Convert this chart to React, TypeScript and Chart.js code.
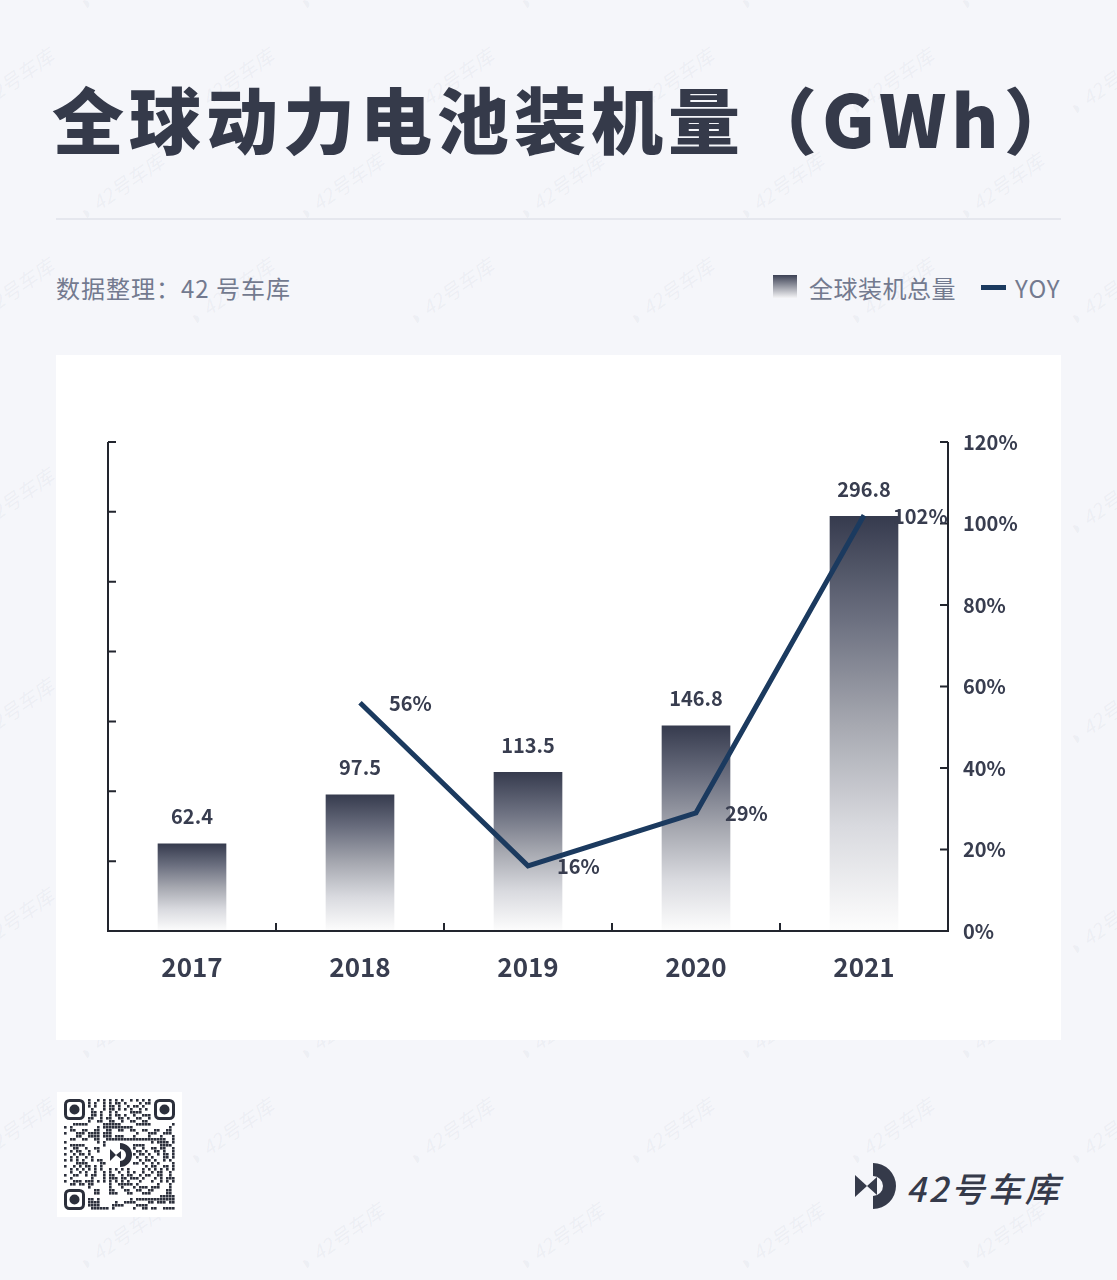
import React, { useEffect, useRef } from 'react';
import { Chart, registerables } from 'chart.js';

Chart.register(...registerables);

const categories = ['2017', '2018', '2019', '2020', '2021'];
const installedGWh = [62.4, 97.5, 113.5, 146.8, 296.8];
const yoyPercent: (number | null)[] = [null, 56, 16, 29, 102];
const leftAxisMax = 350;
const leftAxisStep = 50;
const rightAxisMax = 120;
const rightAxisStep = 20;

const titleText = '全球动力电池装机量（GWh）';
const sourceText = '数据整理：42 号车库';
const barLegend = '全球装机总量';
const lineLegend = 'YOY';
const brandText = '42号车库';

const FONT = '"Noto Sans CJK SC", "Noto Sans", sans-serif';
const DARK = '#383d4f';
const LINE = '#1b3a5f';
const MUTED = '#737a8f';

const decorPlugin = {
  id: 'decor',
  afterDatasetsDraw(chart: any) {
    const { ctx, chartArea: a, scales } = chart;
    const x = scales.x;
    const y = scales.y;
    const y1 = scales.y1;
    ctx.save();
    ctx.strokeStyle = '#22252e';
    ctx.lineWidth = 2;
    ctx.beginPath();
    ctx.moveTo(a.left, a.top);
    ctx.lineTo(a.left, a.bottom);
    ctx.moveTo(a.right, a.top);
    ctx.lineTo(a.right, a.bottom);
    ctx.moveTo(a.left - 1, a.bottom);
    ctx.lineTo(a.right + 1, a.bottom);
    y.ticks.forEach((t: any) => {
      const py = y.getPixelForValue(t.value);
      ctx.moveTo(a.left, py);
      ctx.lineTo(a.left + 8, py);
    });
    y1.ticks.forEach((t: any) => {
      const py = y1.getPixelForValue(t.value);
      ctx.moveTo(a.right, py);
      ctx.lineTo(a.right - 8, py);
    });
    for (let i = 1; i < categories.length; i++) {
      const px = (x.getPixelForValue(i - 1) + x.getPixelForValue(i)) / 2;
      ctx.moveTo(px, a.bottom);
      ctx.lineTo(px, a.bottom - 8);
    }
    ctx.stroke();

    ctx.fillStyle = DARK;
    ctx.font = `bold 20px ${FONT}`;
    ctx.textBaseline = 'middle';
    ctx.textAlign = 'center';
    const barMeta = chart.getDatasetMeta(0);
    barMeta.data.forEach((bar: any, i: number) => {
      ctx.fillText(String(installedGWh[i]), bar.x, bar.y - 27);
    });
    ctx.textAlign = 'left';
    const lineMeta = chart.getDatasetMeta(1);
    lineMeta.data.forEach((pt: any, i: number) => {
      const v = yoyPercent[i];
      if (v == null) return;
      ctx.fillText(`${v}%`, pt.x + 29, pt.y + 1);
    });
    ctx.restore();
  },
};

function ChartPanel() {
  const ref = useRef<HTMLCanvasElement>(null);
  useEffect(() => {
    if (!ref.current) return;
    const chart = new Chart(ref.current, {
      type: 'bar',
      data: {
        labels: categories,
        datasets: [
          {
            type: 'bar',
            label: barLegend,
            data: installedGWh,
            yAxisID: 'y',
            order: 2,
            barThickness: 68,
            borderWidth: 0,
            backgroundColor: (c: any) => {
              const chart = c.chart;
              if (c.type !== 'data' || !chart.chartArea) return '#8a8d98';
              const ys = chart.scales.y;
              const top = ys.getPixelForValue(c.raw);
              const bottom = ys.getPixelForValue(0);
              const g = chart.ctx.createLinearGradient(0, top, 0, bottom);
              g.addColorStop(0, '#363b4e');
              g.addColorStop(0.25, '#6c7080');
              g.addColorStop(0.5, '#a6a8b0');
              g.addColorStop(0.75, '#d9dadf');
              g.addColorStop(1, '#fdfdfd');
              return g;
            },
          } as any,
          {
            type: 'line',
            label: lineLegend,
            data: yoyPercent,
            yAxisID: 'y1',
            order: 1,
            borderColor: LINE,
            borderWidth: 5,
            pointRadius: 0,
            tension: 0,
            fill: false,
            spanGaps: false,
          } as any,
        ],
      },
      options: {
        responsive: false,
        animation: false,
        devicePixelRatio: 1,
        layout: { padding: { top: 87, left: 0, right: 0, bottom: 0 } },
        plugins: { legend: { display: false }, tooltip: { enabled: false } },
        scales: {
          x: {
            type: 'category',
            offset: true,
            grid: { display: false, drawTicks: false },
            border: { display: false },
            ticks: { color: DARK, font: { family: FONT, size: 26, weight: 'bold' }, padding: 21 },
            afterFit: (s: any) => { s.height = 109; },
          },
          y: {
            position: 'left',
            min: 0,
            max: leftAxisMax,
            ticks: { display: false, stepSize: leftAxisStep },
            grid: { display: false, drawTicks: false },
            border: { display: false },
            afterFit: (s: any) => { s.width = 52; },
          },
          y1: {
            position: 'right',
            min: 0,
            max: rightAxisMax,
            ticks: {
              stepSize: rightAxisStep,
              color: DARK,
              padding: 15,
              font: { family: FONT, size: 20, weight: 'bold' },
              callback: (v: any) => `${v}%`,
            },
            grid: { display: false, drawTicks: false },
            border: { display: false },
            afterFit: (s: any) => { s.width = 113; },
          },
        },
      } as any,
      plugins: [decorPlugin],
    });
    return () => chart.destroy();
  }, []);
  return <canvas ref={ref} width={1005} height={685} style={{ display: 'block', width: 1005, height: 685 }} />;
}

function QRMark() {
  const n = 37;
  const m = 3;
  const cells: React.ReactNode[] = [];
  const inFinder = (i: number, j: number) =>
    (i < 8 && j < 8) || (i < 8 && j >= n - 8) || (i >= n - 8 && j < 8);
  for (let i = 0; i < n; i++) {
    for (let j = 0; j < n; j++) {
      if (inFinder(i, j)) continue;
      if (Math.abs(i - 18) < 5 && Math.abs(j - 18) < 5) continue;
      const h = (i * 73 + j * 151 + i * j * 17 + ((i ^ j) * 31)) % 11;
      if (h < 5) cells.push(<rect key={`${i}-${j}`} x={j * m} y={i * m} width={m - 0.4} height={m - 0.4} fill="#2b2f3b" />);
    }
  }
  const finder = (x: number, y: number, k: string) => (
    <g key={k}>
      <rect x={x + 1.5} y={y + 1.5} width={18} height={18} rx={4} fill="none" stroke="#2b2f3b" strokeWidth={3} />
      <circle cx={x + 10.5} cy={y + 10.5} r={5} fill="#2b2f3b" />
    </g>
  );
  return (
    <svg width={n * m} height={n * m} viewBox={`0 0 ${n * m} ${n * m}`}>
      {cells}
      {finder(0, 0, 'a')}
      {finder((n - 7) * m, 0, 'b')}
      {finder(0, (n - 7) * m, 'c')}
      <path d="M 56 44 A 12 12 0 0 1 56 68 L 56 62 A 6 6 0 0 0 56 50 Z" fill="#2b2f3b" />
      <path d="M 46 50 L 52 56 L 46 62 Z" fill="#2b2f3b" />
      <path d="M 52 56 L 57 52 L 57 60 Z" fill="#2b2f3b" />
    </svg>
  );
}

function Watermarks() {
  const items: React.ReactNode[] = [];
  for (let r = 0; r < 13; r++) {
    for (let c = 0; c < 7; c++) {
      const left = c * 220 + (r % 2 === 0 ? 80 : -30);
      const top = r * 105 - 10;
      items.push(
        <div
          key={`${r}-${c}`}
          style={{
            position: 'absolute',
            left,
            top,
            transform: 'rotate(-35deg)',
            transformOrigin: 'left center',
            color: 'rgba(130,138,160,0.08)',
            fontFamily: FONT,
            fontSize: 20,
            fontStyle: 'italic',
            whiteSpace: 'nowrap',
          }}
        >
          ◗ {brandText}
        </div>
      );
    }
  }
  return <div style={{ position: 'absolute', inset: 0, overflow: 'hidden' }}>{items}</div>;
}

export default function App() {
  return (
    <div
      style={{
        position: 'absolute',
        left: 0,
        top: 0,
        width: 1117,
        height: 1280,
        background: '#f5f6fa',
        overflow: 'hidden',
        fontFamily: FONT,
      }}
    >
      <Watermarks />
      <div
        style={{
          position: 'absolute',
          left: 52,
          top: 74,
          fontSize: 72,
          lineHeight: '86px',
          fontWeight: 900,
          letterSpacing: 5,
          color: '#353a4a',
          whiteSpace: 'nowrap',
        }}
      >
        {titleText}
      </div>
      <div style={{ position: 'absolute', left: 56, top: 218, width: 1005, height: 2, background: '#e5e7ee' }} />
      <div
        style={{ position: 'absolute', left: 56, top: 272, fontSize: 24, lineHeight: '32px', letterSpacing: 1, color: MUTED, whiteSpace: 'nowrap' }}
      >
        {sourceText}
      </div>
      <div style={{ position: 'absolute', left: 773, top: 275, width: 24, height: 23, background: 'linear-gradient(#3c4154, #f4f4f6)' }} />
      <div style={{ position: 'absolute', left: 809, top: 272, fontSize: 24, lineHeight: '32px', letterSpacing: 0.5, color: MUTED, whiteSpace: 'nowrap' }}>
        {barLegend}
      </div>
      <div style={{ position: 'absolute', left: 981, top: 285, width: 25, height: 5, background: LINE }} />
      <div style={{ position: 'absolute', left: 1015, top: 272, fontSize: 24, lineHeight: '32px', letterSpacing: 1, color: MUTED, whiteSpace: 'nowrap' }}>
        {lineLegend}
      </div>
      <div style={{ position: 'absolute', left: 56, top: 355, width: 1005, height: 685, background: '#ffffff' }}>
        <ChartPanel />
      </div>
      <div style={{ position: 'absolute', left: 57, top: 1092, width: 125, height: 125, background: '#ffffff' }}>
        <div style={{ position: 'absolute', left: 7, top: 7 }}>
          <QRMark />
        </div>
      </div>
      <svg style={{ position: 'absolute', left: 855, top: 1163 }} width={42} height={46} viewBox="0 0 42 46">
        <path d="M 18 0 A 23 23 0 0 1 18 46 L 18 33 A 10 10 0 0 0 18 13 Z" fill="#353a4a" />
        <path d="M 0 12 L 12 23 L 0 34 Z" fill="#353a4a" />
        <path d="M 12 23 L 22 14 L 22 32 Z" fill="#353a4a" />
      </svg>
      <div
        style={{
          position: 'absolute',
          left: 906,
          top: 1166,
          fontSize: 34,
          lineHeight: '44px',
          fontWeight: 500,
          fontStyle: 'italic',
          letterSpacing: 3,
          color: '#353a4a',
          whiteSpace: 'nowrap',
        }}
      >
        {brandText}
      </div>
    </div>
  );
}
